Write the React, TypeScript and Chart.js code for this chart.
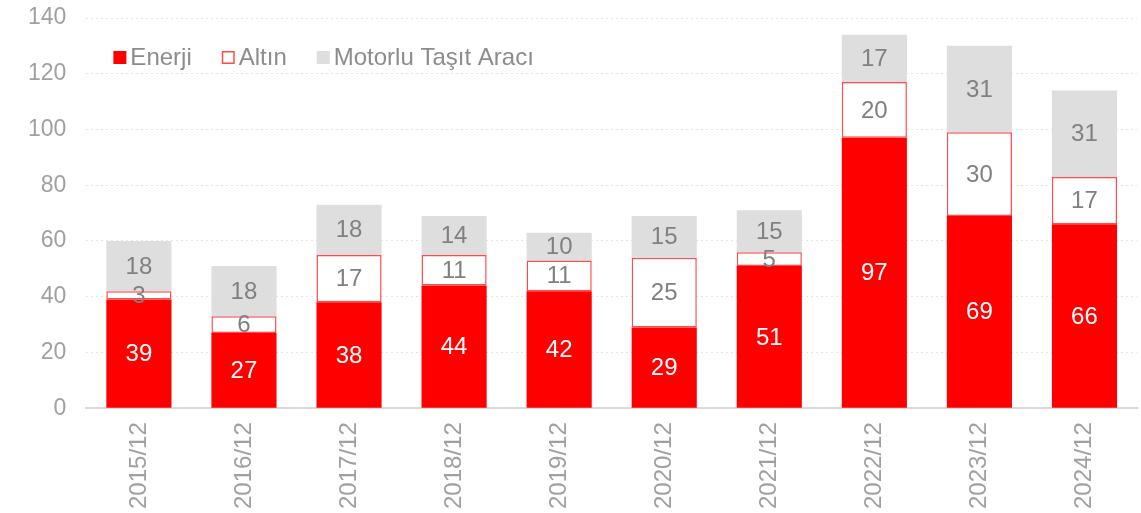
import React, { useEffect, useRef } from "react";
import { Chart, registerables } from "chart.js";

Chart.register(...registerables);

const categories = ["2015/12", "2016/12", "2017/12", "2018/12", "2019/12", "2020/12", "2021/12", "2022/12", "2023/12", "2024/12"];
const enerji = [39, 27, 38, 44, 42, 29, 51, 97, 69, 66];
const altin = [3, 6, 17, 11, 11, 25, 5, 20, 30, 17];
const motorlu = [18, 18, 18, 14, 10, 15, 15, 17, 31, 31];
const seriesNames = ["Enerji", "Altın", "Motorlu Taşıt Aracı"];

const FONT = "'Liberation Sans', Arial, sans-serif";

const labelPlugin = {
  id: "barLabels",
  afterDatasetsDraw(chart: any) {
    const ctx = chart.ctx;
    ctx.save();
    ctx.font = `24px ${FONT}`;
    ctx.textAlign = "center";
    ctx.textBaseline = "middle";
    chart.data.datasets.forEach((ds: any, di: number) => {
      const meta = chart.getDatasetMeta(di);
      meta.data.forEach((el: any, i: number) => {
        const y = (el.y + el.base) / 2;
        ctx.fillStyle = di === 0 ? "#ffffff" : "#808080";
        ctx.fillText(String(ds.data[i]), el.x, y + 1);
      });
    });
    ctx.restore();
  },
};

const legendPlugin = {
  id: "insideLegend",
  afterDraw(chart: any) {
    const ctx = chart.ctx;
    ctx.save();
    ctx.font = `24px ${FONT}`;
    ctx.textBaseline = "middle";
    let x = chart.chartArea.left + 27;
    const yc = 57.5;
    chart.data.datasets.forEach((ds: any) => {
      const box = 13;
      ctx.fillStyle = ds.backgroundColor;
      ctx.fillRect(x, yc - box / 2, box, box);
      if (ds.borderWidth) {
        ctx.strokeStyle = ds.borderColor;
        ctx.lineWidth = 1.5;
        ctx.strokeRect(x + 0.75, yc - box / 2 + 0.75, box - 1.5, box - 1.5);
      }
      x += box + 4;
      ctx.fillStyle = "#8c8c8c";
      ctx.fillText(ds.label, x, yc + 1);
      x += ctx.measureText(ds.label).width + 30;
    });
    ctx.restore();
  },
};

export default function App() {
  const ref = useRef<HTMLCanvasElement>(null);
  useEffect(() => {
    if (!ref.current) return;
    const chart = new Chart(ref.current, {
      type: "bar",
      data: {
        labels: categories,
        datasets: [
          { label: seriesNames[0], data: enerji, backgroundColor: "#ff0000", borderWidth: 0 },
          { label: seriesNames[1], data: altin, backgroundColor: "#ffffff", borderColor: "#ff4b4b", borderWidth: 1.5, borderSkipped: false },
          { label: seriesNames[2], data: motorlu, backgroundColor: "#dedede", borderWidth: 0 },
        ],
      },
      options: {
        animation: false,
        responsive: false,
        maintainAspectRatio: false,
        layout: { padding: { left: 8, right: 4, top: 18, bottom: -10 } },
        datasets: { bar: { categoryPercentage: 1, barPercentage: 0.62 } },
        plugins: { legend: { display: false }, tooltip: { enabled: false } },
        scales: {
          x: {
            stacked: true,
            grid: { display: false, drawTicks: false },
            border: { display: true, color: "#d9d9d9", width: 2 },
            ticks: { color: "#a0a0a0", font: { family: FONT, size: 24 }, minRotation: 90, maxRotation: 90, padding: 14 },
          },
          y: {
            stacked: true,
            min: 0,
            max: 140,
            afterFit: (scale: any) => {
              scale.paddingTop = 0;
            },
            grid: { color: "#e4e4e4", lineWidth: 1, drawTicks: false },
            border: { display: false, dash: [2, 3] },
            ticks: { stepSize: 20, color: "#a0a0a0", font: { family: FONT, size: 23 }, padding: 20 },
          },
        },
      },
      plugins: [labelPlugin, legendPlugin],
    });
    return () => chart.destroy();
  }, []);
  return (
    <div style={{ position: "fixed", left: 0, top: 0, width: 1141, height: 513, background: "#fff" }}>
      <canvas ref={ref} width={1141} height={513} style={{ width: 1141, height: 513 }} />
    </div>
  );
}
